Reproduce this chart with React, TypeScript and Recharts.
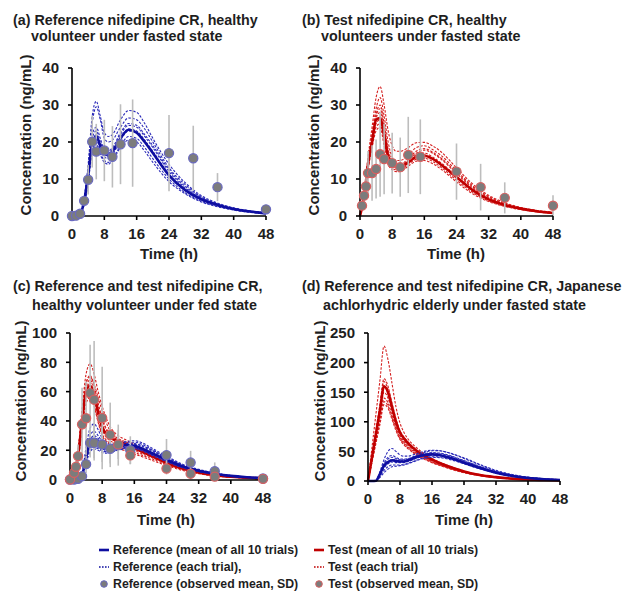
import React from 'react';
import { ComposedChart, Line, Scatter, ErrorBar, XAxis, YAxis } from 'recharts';

const TIME = [0, 1, 2, 3, 4, 5, 6, 7, 8, 9, 10, 12, 14, 16, 18, 20, 24, 28, 32, 36, 40, 44, 48];
const X_TICKS = [0, 8, 16, 24, 32, 40, 48];

// (a) Reference, healthy, fasted
const A_REF_MEAN = [0, 0, 0.5, 4, 11, 19.5, 21.5, 19, 16.8, 16.5, 17.5, 21, 23.3, 22.5, 20, 17, 11, 7, 4.5, 3, 1.9, 1.2, 0.7];
const A_REF_TRIALS = [
  [0, 0, 0.6, 5, 14, 27, 31, 27, 22.5, 21.5, 22, 26, 28.5, 28, 25, 21, 14, 9, 5.5, 3.5, 2.2, 1.4, 0.9],
  [0, 0, 0.5, 4.5, 13, 25, 29.5, 26, 21, 20, 20.5, 24, 26.5, 26, 23.5, 20, 13, 8.5, 5.2, 3.3, 2.1, 1.3, 0.8],
  [0, 0, 0.5, 4, 12, 21, 23, 20, 17.5, 17, 18, 22, 24.5, 24, 21.5, 18.5, 12, 7.6, 4.8, 3.1, 2, 1.3, 0.8],
  [0, 0, 0.4, 3.5, 10, 18.5, 20.5, 18, 16, 15.5, 16.5, 20.5, 23, 22.5, 20, 17, 11, 7, 4.4, 2.9, 1.8, 1.2, 0.7],
  [0, 0, 0.4, 3.5, 10, 18, 19.5, 17, 15, 14.5, 15.5, 19, 21.5, 21, 18.5, 15.5, 10, 6.3, 4, 2.6, 1.7, 1.1, 0.6],
  [0, 0, 0.3, 3, 9, 17, 19, 16.5, 14.5, 14, 15, 18.5, 20.5, 20, 17.5, 14.5, 9.3, 6, 3.8, 2.5, 1.6, 1, 0.6],
  [0, 0, 0.5, 4.2, 12, 22, 24, 21, 18, 17.5, 18.5, 22.5, 25, 24.5, 22, 19, 12.5, 8, 5, 3.2, 2, 1.3, 0.8],
  [0, 0, 0.4, 3.8, 11, 20, 22, 19, 16.5, 16, 17, 21, 23.5, 23, 20.5, 17.5, 11.3, 7.2, 4.6, 3, 1.9, 1.2, 0.7],
];
const A_OBS_T = [0, 1, 2, 3, 4, 5, 6, 8, 10, 12, 15, 24, 30, 36, 48];
const A_OBS_MEAN = [0, 0.1, 0.6, 4.1, 9.8, 20.1, 17.4, 17.7, 16, 19.4, 19.7, 17, 15.6, 7.8, 1.8];
const A_OBS_SD = [0, 0.1, 0.4, 1, 4, 7, 7.5, 8.3, 8.3, 10.8, 11.8, 10.3, 8.8, 3.8, 1.2];

// (b) Test, healthy, fasted
const B_TEST_MEAN = [0, 5, 14, 20, 26, 26.5, 22, 16, 14, 13.3, 13.3, 14.5, 16, 16.3, 15.5, 14, 10.5, 7, 4.5, 3, 2, 1.3, 0.8];
const B_TEST_TRIALS = [
  [0, 6, 16, 24, 32, 35, 30, 23, 19, 17.5, 17.5, 18.5, 19.8, 19.9, 19, 17.5, 13, 8.7, 5.6, 3.6, 2.3, 1.5, 1],
  [0, 5.5, 15, 22, 29, 32, 27, 20, 16, 15, 15, 16.5, 18.5, 19, 18, 16.5, 12.3, 8.2, 5.3, 3.4, 2.2, 1.4, 0.9],
  [0, 5, 14, 21, 26.5, 28, 23, 17, 14.5, 13.5, 13.5, 15, 17, 17.8, 17, 15.5, 11.5, 7.6, 4.9, 3.2, 2.1, 1.3, 0.8],
  [0, 5, 13.5, 20, 25, 26, 21, 15.5, 13.5, 13, 13, 14.5, 16, 16.5, 15.5, 14, 10.3, 6.8, 4.4, 2.9, 1.9, 1.2, 0.8],
  [0, 4.5, 13, 19, 24, 25, 20, 15, 13, 12.5, 12.5, 14, 15.3, 15.6, 14.8, 13.3, 9.7, 6.4, 4.1, 2.7, 1.8, 1.1, 0.7],
  [0, 4.5, 12.5, 18.5, 23, 24, 19, 14, 12.5, 12, 12, 13.5, 14.8, 15, 14.2, 12.8, 9.2, 6, 3.9, 2.6, 1.7, 1.1, 0.7],
  [0, 5, 14, 21, 27, 29, 24, 17.5, 14.5, 13.5, 13.5, 15, 16.5, 17, 16, 14.5, 10.8, 7.1, 4.6, 3, 2, 1.3, 0.8],
  [0, 5.5, 14.5, 21.5, 27.5, 30, 25, 18, 15, 14, 14, 15.5, 17.5, 18.2, 17.3, 15.8, 11.8, 7.9, 5.1, 3.3, 2.1, 1.4, 0.9],
];
const B_OBS_T = [0.5, 1, 1.5, 2, 3, 4, 5, 6, 8, 10, 12, 15, 24, 30, 36, 48];
const B_OBS_MEAN = [2.8, 5.5, 8, 11.6, 11.6, 12.7, 16.7, 15.4, 14.3, 13.2, 16.5, 16, 12, 7.8, 4.9, 2.8];
const B_OBS_SD = [1, 2, 3, 6, 7.5, 8, 11.5, 9.5, 8.2, 8, 10.3, 10.1, 7.6, 6.3, 4.2, 2.8];

// (c) Reference and test, healthy, fed
const C_REF_MEAN = [0, 0, 0.3, 3, 15, 26, 28, 26, 23, 21.5, 21.5, 22.5, 23.5, 23, 21, 18.5, 13.5, 9, 6, 4, 2.5, 1.6, 1];
const C_REF_TRIALS = [
  [0, 0, 0.5, 5, 22, 35, 38, 34, 28, 25, 24, 25, 26, 26.5, 25, 22, 16, 10.5, 7, 4.5, 2.8, 1.8, 1.1],
  [0, 0, 0.4, 4, 18, 30, 33, 30, 26, 24, 23.5, 24.5, 25.5, 25.5, 24, 21, 15.3, 10, 6.6, 4.3, 2.7, 1.7, 1.1],
  [0, 0, 0.3, 3, 15, 25, 27, 25, 22.5, 21, 21, 22.5, 24, 24, 22.5, 20, 14.5, 9.5, 6.2, 4.1, 2.6, 1.6, 1],
  [0, 0, 0.3, 2.5, 13, 22, 24, 22, 20, 19, 19, 20.5, 22, 22, 20.5, 18, 13, 8.6, 5.7, 3.8, 2.4, 1.5, 0.9],
  [0, 0, 0.2, 2, 11, 19, 21, 20, 18.5, 18, 18.5, 20, 21, 21, 19.5, 17, 12.2, 8, 5.3, 3.5, 2.2, 1.4, 0.9],
  [0, 0, 0.3, 3, 14, 23, 25, 23, 21, 20, 20, 21.5, 23, 23, 21.5, 19, 13.8, 9, 6, 3.9, 2.5, 1.6, 1],
  [0, 0, 0.4, 3.5, 16, 27, 30, 28, 25, 23, 22.5, 23.5, 24.5, 24.5, 23, 20.5, 14.8, 9.8, 6.4, 4.2, 2.7, 1.7, 1],
  [0, 0, 0.2, 2.2, 12, 20, 22, 21, 19.5, 19, 19, 20.5, 21.5, 21.5, 20, 17.5, 12.6, 8.3, 5.5, 3.6, 2.3, 1.4, 0.9],
];
const C_TEST_MEAN = [0, 4, 16, 40, 60, 64, 58, 46, 36, 31, 28.5, 26, 24, 21.5, 19, 16.5, 11.5, 7.5, 4.8, 3, 1.9, 1.2, 0.8];
const C_TEST_TRIALS = [
  [0, 5, 20, 48, 72, 79, 72, 60, 50, 42, 36, 30, 27, 24, 21, 18.5, 13, 8.5, 5.5, 3.5, 2.2, 1.4, 0.9],
  [0, 4.5, 18, 44, 66, 71, 64, 52, 42, 35, 31, 27, 24.5, 22, 19.5, 17, 12, 7.8, 5, 3.2, 2, 1.3, 0.8],
  [0, 4, 16, 40, 61, 66, 59, 47, 37, 31.5, 28.5, 25.5, 23.5, 21, 18.5, 16, 11.5, 7.5, 4.8, 3, 1.9, 1.2, 0.8],
  [0, 3.5, 15, 38, 58, 62, 55, 43, 34, 29, 26.5, 24, 22, 20, 17.5, 15.5, 11, 7.2, 4.6, 2.9, 1.8, 1.2, 0.7],
  [0, 3.5, 14, 36, 55, 58, 51, 40, 31, 27, 24.5, 22, 20.5, 18.5, 16.5, 14.5, 10.3, 6.7, 4.3, 2.7, 1.7, 1.1, 0.7],
  [0, 4, 17, 42, 63, 68, 62, 51, 41, 34, 30, 26, 23.5, 21, 18.5, 16, 11.5, 7.5, 4.8, 3, 1.9, 1.2, 0.8],
  [0, 3, 13, 34, 52, 56, 50, 39, 30, 26, 23.5, 21, 19.5, 17.5, 15.5, 13.5, 9.6, 6.2, 4, 2.5, 1.6, 1, 0.6],
  [0, 4.5, 19, 46, 66, 70, 65, 56, 47, 39, 33, 28, 25.5, 23, 20.5, 18, 12.8, 8.3, 5.3, 3.4, 2.1, 1.4, 0.9],
];
const C_REF_OBS_T = [0, 1, 2, 3, 4, 5, 6, 8, 10, 12, 15, 24, 30, 36, 48];
const C_REF_OBS_MEAN = [0, 0, 0.5, 2.3, 10.5, 25, 25, 24, 21, 23.5, 20, 16.7, 11.6, 5.7, 0.7];
const C_REF_OBS_SD = [0, 0, 0.3, 1.5, 6, 10, 12, 12, 10, 14, 9.5, 11, 8, 6, 0.8];
const C_TEST_OBS_T = [0, 1, 1.5, 2, 3, 4, 5, 6, 8, 10, 12, 15, 24, 30, 36, 48];
const C_TEST_OBS_MEAN = [0, 4.6, 8.7, 16, 37.7, 41.8, 59, 54.5, 42, 30.5, 24, 16.5, 7.5, 4, 2, 0.5];
const C_TEST_OBS_SD = [0, 2, 4, 8, 25, 25, 33, 40, 35, 22, 10, 6, 4, 3, 2, 0.5];

// (d) Reference and test, Japanese achlorhydric elderly, fasted
const D_REF_MEAN = [0, 0, 0.5, 12, 26, 32, 35, 34, 33, 33, 35, 40, 44, 45, 43.5, 40, 31, 22, 14, 8.5, 5, 3, 1.8];
const D_REF_TRIALS = [
  [0, 0, 1, 16, 36, 50, 55, 50, 44, 42, 42, 46, 50, 52, 51, 48, 38, 27, 17, 10.5, 6.2, 3.7, 2.2],
  [0, 0, 0.8, 14, 30, 40, 43, 40, 37, 37, 38, 43, 48, 51, 51, 48, 39, 28, 18, 11, 6.5, 3.9, 2.3],
  [0, 0, 0.6, 12, 26, 33, 36, 35, 34, 34, 36, 41, 45, 47, 46, 43, 34, 24, 15.5, 9.5, 5.6, 3.3, 2],
  [0, 0, 0.5, 10, 22, 29, 32, 31, 31, 31, 33, 38, 42, 44, 43, 40, 31.5, 22.5, 14.5, 8.8, 5.2, 3.1, 1.8],
  [0, 0, 0.4, 8, 18, 24, 27, 27, 27, 28, 30, 35, 39, 41, 40.5, 38, 30, 21.5, 13.8, 8.4, 5, 3, 1.7],
  [0, 0, 0.3, 6, 14, 20, 24, 25, 26, 27, 29, 34, 38, 40, 39.5, 37, 29, 20.5, 13.2, 8, 4.8, 2.9, 1.7],
  [0, 0, 0.7, 13, 28, 37, 40, 38, 36, 36, 37, 42, 46, 48, 47, 44, 34.5, 24.5, 16, 9.8, 5.8, 3.5, 2.1],
  [0, 0, 0.5, 11, 24, 31, 34, 33, 32, 32, 34, 39, 43, 45, 44, 41, 32, 23, 15, 9, 5.4, 3.2, 1.9],
];
const D_TEST_MEAN = [0, 40, 80, 120, 160, 150, 125, 100, 82, 72, 64, 52, 43, 36, 30, 25, 16, 10, 6.5, 4, 2.5, 1.6, 1];
const D_TEST_TRIALS = [
  [0, 57, 114, 171, 228, 205, 165, 125, 98, 82, 71, 57, 46, 38, 31.5, 26, 17, 10.8, 6.8, 4.2, 2.6, 1.7, 1.1],
  [0, 43, 87, 130, 173, 160, 132, 105, 85, 74, 66, 53, 44, 37, 31, 25.5, 16.5, 10.3, 6.6, 4.1, 2.6, 1.6, 1],
  [0, 42, 84, 126, 168, 155, 128, 102, 83, 72, 64, 52, 43, 36, 30, 25, 16.2, 10.1, 6.4, 4, 2.5, 1.6, 1],
  [0, 40, 80, 120, 160, 148, 122, 98, 80, 70, 62, 50, 41.5, 35, 29, 24, 15.8, 9.9, 6.3, 3.9, 2.5, 1.6, 1],
  [0, 37, 75, 112, 150, 140, 117, 94, 77, 67, 60, 48.5, 40, 33.5, 28, 23.5, 15.3, 9.6, 6.1, 3.8, 2.4, 1.5, 0.9],
  [0, 35, 70, 105, 140, 132, 111, 90, 74, 65, 58, 47, 39, 32.5, 27, 22.5, 14.8, 9.3, 5.9, 3.7, 2.3, 1.5, 0.9],
  [0, 33, 67, 100, 134, 127, 107, 88, 72, 63, 56, 45.5, 38, 31.5, 26.5, 22, 14.4, 9, 5.7, 3.6, 2.2, 1.4, 0.9],
  [0, 32, 64, 96, 129, 123, 104, 85, 70, 61, 54.5, 44.5, 37, 31, 26, 21.5, 14, 8.8, 5.6, 3.5, 2.2, 1.4, 0.9],
];

const BLUE = '#0e0ea0';
const BLUE_TRIAL = '#2a2ab8';
const RED = '#c00000';
const RED_TRIAL = '#d42020';
const BLUE_RING = '#6a6ac0';
const RED_RING = '#d86060';
const FONT = '"Liberation Sans", Arial, Helvetica, sans-serif';
const INK = '#1e1e1e';

type Group = { key: string; mean: number[]; trials: number[][]; color: string; trialColor: string };
type Obs = { t: number[]; mean: number[]; sd: number[]; ring: string };

const tickStyle = { fill: INK, fontSize: 15, fontWeight: 700, fontFamily: FONT };

function Panel(props: {
  left: number; top: number; width: number; height: number;
  margin: { top: number; right: number; bottom: number; left: number };
  yAxisWidth: number; yDomain: [number, number]; yTicks: number[];
  groups: Group[]; obs: Obs[];
}) {
  const { left, top, width, height, margin, yAxisWidth, yDomain, yTicks, groups, obs } = props;
  const data = TIME.map((t, i) => {
    const r: any = { t };
    groups.forEach((g) => {
      r[g.key + '_m'] = g.mean[i];
      g.trials.forEach((tr, k) => { r[g.key + '_' + k] = tr[i]; });
    });
    return r;
  });
  const lines: any[] = [];
  groups.forEach((g) => {
    g.trials.forEach((_, k) => {
      lines.push(
        <Line key={g.key + '_' + k} type="monotone" dataKey={g.key + '_' + k} stroke={g.trialColor}
          strokeWidth={1.1} strokeDasharray="2.5 1.5" dot={false} activeDot={false} isAnimationActive={false} />
      );
    });
    lines.push(
      <Line key={g.key + '_m'} type="monotone" dataKey={g.key + '_m'} stroke={g.color}
        strokeWidth={2.6} dot={false} activeDot={false} isAnimationActive={false} />
    );
  });
  return (
    <div style={{ position: 'absolute', left, top }}>
      <ComposedChart width={width} height={height} data={data} margin={margin}>
        <XAxis type="number" dataKey="t" domain={[0, 48]} ticks={X_TICKS} interval={0}
          axisLine={{ stroke: '#000', strokeWidth: 1.6 }} tickLine={{ stroke: '#000', strokeWidth: 1.6 }}
          tickSize={4} tickMargin={8} tick={tickStyle} height={30} />
        <YAxis type="number" domain={yDomain} ticks={yTicks} interval={0} width={yAxisWidth}
          axisLine={{ stroke: '#000', strokeWidth: 1.6 }} tickLine={{ stroke: '#000', strokeWidth: 1.6 }}
          tickSize={4} tickMargin={9} tick={tickStyle} />
        {lines}
        {obs.map((o, j) => (
          <Scatter key={'obs' + j} data={o.t.map((t, i) => ({ t, y: o.mean[i], sd: o.sd[i] }))} dataKey="y"
            isAnimationActive={false}
            shape={(p: any) => <circle cx={p.cx} cy={p.cy} r={4.6} fill="#7c7c7c" stroke={o.ring} strokeWidth={1.2} />}>
            <ErrorBar dataKey="sd" direction="y" width={0} stroke="#bdbdbd" strokeWidth={1.6} isAnimationActive={false} />
          </Scatter>
        ))}
      </ComposedChart>
    </div>
  );
}

const textBase: React.CSSProperties = {
  position: 'absolute', fontFamily: FONT, fontWeight: 700, color: INK, whiteSpace: 'nowrap', lineHeight: 1,
};

function Title({ x, y, text, size = 14.3 }: { x: number; y: number; text: string; size?: number }) {
  return <div style={{ ...textBase, left: x, top: y - size / 2, fontSize: size }}>{text}</div>;
}
function CenterText({ x, y, text, size = 15 }: { x: number; y: number; text: string; size?: number }) {
  return <div style={{ ...textBase, left: x, top: y, fontSize: size, transform: 'translate(-50%,-50%)' }}>{text}</div>;
}
function VText({ x, y, text }: { x: number; y: number; text: string }) {
  return <div style={{ ...textBase, left: x, top: y, fontSize: 15, transform: 'translate(-50%,-50%) rotate(-90deg)' }}>{text}</div>;
}

function LegendItem({ x, y, kind, color, ring, label }: { x: number; y: number; kind: string; color: string; ring: string; label: string }) {
  return (
    <div style={{ position: 'absolute', left: x, top: y - 8, height: 16, display: 'flex', alignItems: 'center' }}>
      <svg width={14} height={16} style={{ display: 'block' }}>
        {kind === 'solid' && <line x1={1} y1={8} x2={11} y2={8} stroke={color} strokeWidth={2.6} />}
        {kind === 'dot' && <line x1={1} y1={8} x2={11} y2={8} stroke={color} strokeWidth={1.4} strokeDasharray="1.6 1.4" />}
        {kind === 'marker' && <circle cx={6} cy={8} r={3.3} fill="#7c7c7c" stroke={ring} strokeWidth={1} />}
      </svg>
      <span style={{ fontFamily: FONT, fontWeight: 700, fontSize: 12.3, color: INK, marginLeft: 1, whiteSpace: 'nowrap' }}>{label}</span>
    </div>
  );
}

export default function App() {
  const refA: Group = { key: 'ref', mean: A_REF_MEAN, trials: A_REF_TRIALS, color: BLUE, trialColor: BLUE_TRIAL };
  const testB: Group = { key: 'test', mean: B_TEST_MEAN, trials: B_TEST_TRIALS, color: RED, trialColor: RED_TRIAL };
  const refC: Group = { key: 'ref', mean: C_REF_MEAN, trials: C_REF_TRIALS, color: BLUE, trialColor: BLUE_TRIAL };
  const testC: Group = { key: 'test', mean: C_TEST_MEAN, trials: C_TEST_TRIALS, color: RED, trialColor: RED_TRIAL };
  const refD: Group = { key: 'ref', mean: D_REF_MEAN, trials: D_REF_TRIALS, color: BLUE, trialColor: BLUE_TRIAL };
  const testD: Group = { key: 'test', mean: D_TEST_MEAN, trials: D_TEST_TRIALS, color: RED, trialColor: RED_TRIAL };

  return (
    <div style={{ position: 'absolute', left: 0, top: 0, width: 635, height: 599, background: '#fff', overflow: 'hidden' }}>
      <Panel left={0} top={0} width={290} height={265} margin={{ top: 68, right: 24, bottom: 19, left: 0 }}
        yAxisWidth={72} yDomain={[0, 40]} yTicks={[0, 10, 20, 30, 40]} groups={[refA]}
        obs={[{ t: A_OBS_T, mean: A_OBS_MEAN, sd: A_OBS_SD, ring: BLUE_RING }]} />
      <Panel left={290} top={0} width={290} height={265} margin={{ top: 68, right: 27, bottom: 19, left: 0 }}
        yAxisWidth={70} yDomain={[0, 40]} yTicks={[0, 10, 20, 30, 40]} groups={[testB]}
        obs={[{ t: B_OBS_T, mean: B_OBS_MEAN, sd: B_OBS_SD, ring: RED_RING }]} />
      <Panel left={0} top={265} width={290} height={265} margin={{ top: 68, right: 27, bottom: 20, left: 0 }}
        yAxisWidth={70} yDomain={[0, 100]} yTicks={[0, 20, 40, 60, 80, 100]} groups={[testC, refC]}
        obs={[{ t: C_REF_OBS_T, mean: C_REF_OBS_MEAN, sd: C_REF_OBS_SD, ring: BLUE_RING },
              { t: C_TEST_OBS_T, mean: C_TEST_OBS_MEAN, sd: C_TEST_OBS_SD, ring: RED_RING }]} />
      <Panel left={290} top={265} width={290} height={265} margin={{ top: 68, right: 20, bottom: 19, left: 0 }}
        yAxisWidth={78} yDomain={[0, 250]} yTicks={[0, 50, 100, 150, 200, 250]} groups={[testD, refD]} obs={[]} />

      <Title x={13} y={20} text="(a) Reference nifedipine CR, healthy" />
      <Title x={31} y={36} text="volunteer under fasted state" />
      <Title x={302} y={20} text="(b) Test nifedipine CR, healthy" />
      <Title x={321} y={36} text="volunteers under fasted state" />
      <Title x={13} y={286} text="(c) Reference and test nifedipine CR," />
      <Title x={32} y={305} text="healthy volunteer under fed state" />
      <Title x={302} y={286} text="(d) Reference and test nifedipine CR, Japanese" />
      <Title x={323} y={305} text="achlorhydric elderly under fasted state" />

      <CenterText x={169} y={253} text="Time (h)" />
      <CenterText x={456} y={253} text="Time (h)" />
      <CenterText x={166} y={519} text="Time (h)" />
      <CenterText x={464} y={519} text="Time (h)" />

      <VText x={25} y={135} text="Concentration (ng/mL)" />
      <VText x={313} y={135} text="Concentration (ng/mL)" />
      <VText x={20} y={401} text="Concentration (ng/mL)" />
      <VText x={319} y={401} text="Concentration (ng/mL)" />

      <LegendItem x={98} y={550} kind="solid" color={BLUE} ring={BLUE_RING} label="Reference (mean of all 10 trials)" />
      <LegendItem x={98} y={567} kind="dot" color={BLUE} ring={BLUE_RING} label="Reference (each trial)," />
      <LegendItem x={98} y={584} kind="marker" color={BLUE} ring={BLUE_RING} label="Reference (observed mean, SD)" />
      <LegendItem x={313} y={550} kind="solid" color={RED} ring={RED_RING} label="Test (mean of all 10 trials)" />
      <LegendItem x={313} y={567} kind="dot" color={RED} ring={RED_RING} label="Test (each trial)" />
      <LegendItem x={313} y={584} kind="marker" color={RED} ring={RED_RING} label="Test (observed mean, SD)" />
    </div>
  );
}
